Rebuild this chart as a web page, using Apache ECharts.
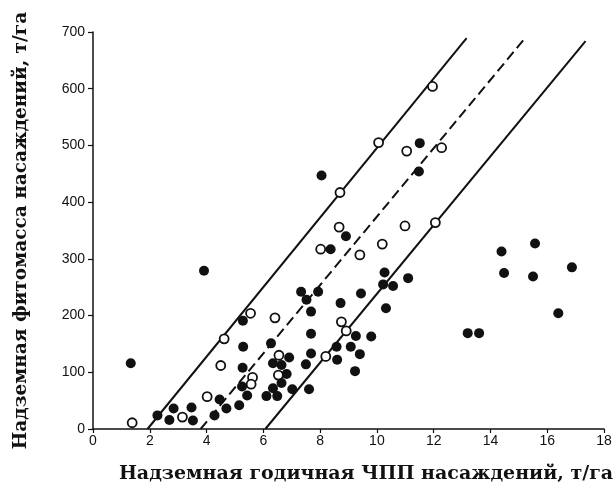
<!DOCTYPE html>
<html>
<head>
<meta charset="utf-8">
<script src="https://cdn.jsdelivr.net/npm/echarts@6/dist/echarts.min.js"></script>
<style>
  html, body { margin: 0; padding: 0; background: #fff; }
  #chart { width: 616px; height: 488px; }
</style>
</head>
<body>
<div id="chart"></div>
<script>
// ЧПП (x) и фитомасса (y), т/га
const filledX = [1.33, 3.91, 2.27, 2.84, 2.69, 3.47, 3.52, 4.28, 4.46, 4.70, 5.15, 5.28, 5.29, 5.27, 5.25, 5.43,
  6.11, 6.49, 6.27, 6.34, 6.34, 6.64, 6.91, 6.82, 6.64, 7.02, 7.61, 7.50, 7.68, 7.68, 7.68, 7.52, 7.33, 7.93,
  8.37, 8.91, 8.05, 8.72, 9.44, 10.27, 10.22, 10.57, 11.10, 10.32, 9.26, 9.80, 8.58, 9.08, 9.40, 8.60, 9.23,
  11.51, 11.48, 13.20, 13.60, 14.39, 15.57, 14.48, 15.50, 16.87, 16.39]
const filledY = [116, 279, 24, 36, 16, 38, 15, 24, 52, 36, 42, 191, 145, 108, 75, 59,
  58, 58, 151, 116, 72, 113, 126, 97, 81, 70, 70, 114, 133, 168, 207, 228, 242, 242,
  317, 340, 447, 222, 239, 276, 255, 252, 266, 213, 164, 163, 145, 145, 132, 122, 102,
  504, 454, 169, 169, 313, 327, 275, 269, 285, 204]

const openX = [1.38, 3.15, 4.02, 4.50, 4.62, 5.55, 5.62, 5.57, 6.41, 6.55, 6.53, 8.20, 8.75, 8.92,
  8.02, 8.67, 9.40, 10.19, 10.99, 12.06, 8.70, 10.06, 11.05, 12.28, 11.96]
const openY = [11, 21, 57, 112, 159, 204, 91, 79, 196, 130, 95, 128, 189, 173,
  317, 356, 307, 326, 358, 364, 417, 505, 490, 496, 604]

// три параллельные линии (начало и конец)
const leftLine = [[1.92, 0], [13.16, 689]]
const midLine = [[3.79, 0], [15.2, 688]]
const rightLine = [[6.07, 0], [17.35, 684]]

const xTicks = { min: 0, max: 18, interval: 2 }
const yTicks = { min: 0, max: 700, interval: 100 }

const zip = (xs, ys) => xs.map((v, i) => [v, ys[i]])

const chart = echarts.init(document.getElementById('chart'))
const labelStyle = { color: '#111', fontSize: 14, fontFamily: 'Liberation Sans, Arial, sans-serif' }
const nameStyle = { color: '#111', fontSize: 19, fontWeight: 'bold', fontFamily: 'DejaVu Serif, serif' }

const option = {
  animation: false,
  grid: { left: 93, right: 12, top: 32, bottom: 59, outerBoundsMode: 'none' },
  xAxis: {
    type: 'value',
    min: xTicks.min,
    max: xTicks.max,
    interval: xTicks.interval,
    name: 'Надземная годичная ЧПП насаждений, т/га',
    nameLocation: 'middle',
    nameGap: 36,
    nameTextStyle: Object.assign({}, nameStyle, { padding: [0, 0, 0, 35] }),
    axisLine: { lineStyle: { color: '#111', width: 1.5 } },
    axisTick: { inside: false, length: 4, lineStyle: { color: '#111', width: 1.2 } },
    axisLabel: Object.assign({}, labelStyle, { margin: 5 }),
    splitLine: { show: false }
  },
  yAxis: {
    type: 'value',
    min: yTicks.min,
    max: yTicks.max,
    interval: yTicks.interval,
    name: 'Надземная фитомасса насаждений, т/га',
    nameLocation: 'middle',
    nameGap: 62,
    nameTextStyle: Object.assign({}, nameStyle, { fontSize: 18.5 }),
    axisLine: { show: true, lineStyle: { color: '#111', width: 1.5 } },
    axisTick: { show: true, length: 5, lineStyle: { color: '#111', width: 1.2 } },
    axisLabel: Object.assign({}, labelStyle, { margin: 8 }),
    splitLine: { show: false }
  },
  series: [
    {
      type: 'line', data: leftLine, symbol: 'none', z: 1,
      lineStyle: { color: '#111', width: 2 }
    },
    {
      type: 'line', data: midLine, symbol: 'none', z: 1,
      lineStyle: { color: '#111', width: 2, type: [10, 5] }
    },
    {
      type: 'line', data: rightLine, symbol: 'none', z: 1,
      lineStyle: { color: '#111', width: 2 }
    },
    {
      type: 'scatter', data: zip(filledX, filledY), symbolSize: 10, z: 3,
      itemStyle: { color: '#111', opacity: 1 }
    },
    {
      type: 'scatter', data: zip(openX, openY), symbolSize: 9, z: 4,
      itemStyle: { color: '#fff', borderColor: '#111', borderWidth: 1.8, opacity: 1 }
    }
  ]
}
chart.setOption(option)
</script>
</body>
</html>
